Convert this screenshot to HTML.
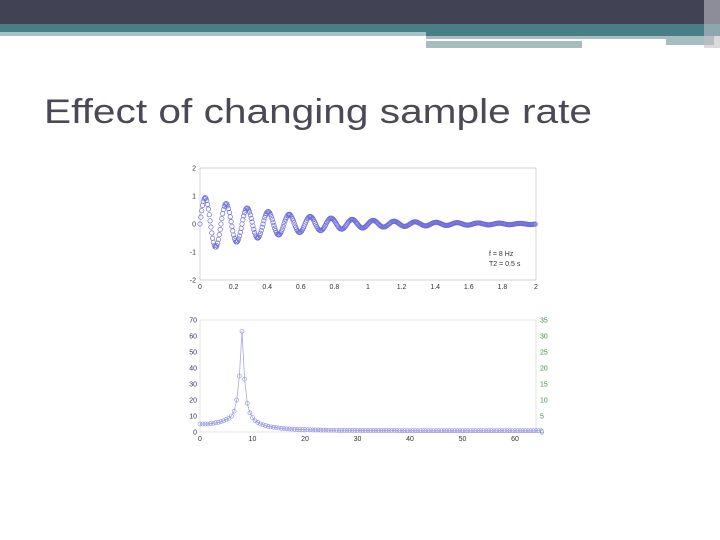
<!DOCTYPE html>
<html><head><meta charset="utf-8"><style>
body{margin:0;width:720px;height:540px;overflow:hidden;background:#fff;font-family:"Liberation Sans",sans-serif}
svg{position:absolute;left:0;top:0}
</style></head><body>
<svg width="720" height="540">
<g>
<rect x="0" y="0" width="720" height="24" fill="#414254"/>
<rect x="0" y="24" width="720" height="8" fill="#477f84"/>
<rect x="0" y="32" width="426" height="4" fill="#a7c2c6"/>
<rect x="426" y="32" width="294" height="4" fill="#477f84"/>
<rect x="426" y="36" width="240" height="3" fill="#a7bcbe"/>
<rect x="426" y="41" width="156" height="7" fill="#a7bcbe"/>
<rect x="666" y="36" width="48" height="9" fill="#a7bcbe"/>
<rect x="704" y="0" width="16" height="48" fill="#c0c0c8" opacity="0.6"/>
</g>
<text x="44" y="123" font-size="34" fill="#4a4a56" textLength="548" lengthAdjust="spacingAndGlyphs">Effect of changing sample rate</text>
<g id="top"></g>
<g id="bot"></g>
</svg>
<script>
const freqHz = [8];
const t2Sec = [0.5];
const topYTicks = [-2,-1,0,1,2];
const topXTicks = [0,0.2,0.4,0.6,0.8,1,1.2,1.4,1.6,1.8,2];
const topXLabels = ["0","0.2","0.4","0.6","0.8","1","1.2","1.4","1.6","1.8","2"];
const specValues = [5,5,5,5,5.2,5.5,5.8,6,6.5,7,7.8,8.5,10,13,20,35,63,33,18,12,9,7,6,5,4.5,4,3.5,3.2,3,2.8,2.5,2.3,2.1,2,1.9,1.8,1.7,1.6,1.6,1.5,1.5,1.4,1.4,1.3,1.3,1.3,1.2,1.2,1.2,1.1,1.1,1.1,1.1,1,1,1,1,1,1,1,1,0.9,0.9,0.9,0.9,0.9,0.9,0.9,0.9,0.9,0.9,0.9,0.9,0.9,0.9,0.9,0.8,0.8,0.8,0.8,0.8,0.8,0.8,0.8,0.8,0.8,0.8,0.8,0.8,0.8,0.8,0.8,0.8,0.8,0.8,0.8,0.8,0.8,0.8,0.8,0.8,0.8,0.8,0.8,0.8,0.8,0.8,0.8,0.8,0.8,0.8,0.8,0.8,0.8,0.8,0.8,0.8,0.8,0.8,0.8,0.8,0.8,0.8,0.8,0.8,0.8,0.8,0.8,0.8,0.8,0.8];
const specStep = [0.5];
const botXTicks = [0,10,20,30,40,50,60];
const botYTicks = [0,10,20,30,40,50,60,70];
const rightYTicks = [0,5,10,15,20,25,30,35];
const NS="http://www.w3.org/2000/svg";
function mk(parent,tag,attrs,txt){const e=document.createElementNS(NS,tag);for(const k in attrs)e.setAttribute(k,attrs[k]);if(txt!==undefined)e.textContent=txt;parent.appendChild(e);return e;}

const gTop=document.getElementById('top');
const TX0=200,TX1=536,TY0=168,TY1=280;
const tx=t=>TX0+(t-0)/(2-0)*(TX1-TX0);
const ty=v=>TY1-(v+2)/4*(TY1-TY0);
const tf=mk(gTop,'rect',{x:TX0,y:TY0,width:TX1-TX0,height:TY1-TY0,fill:'none',stroke:'#ccc','stroke-width':0.8});


topYTicks.forEach(v=>{
  const l=mk(gTop,'text',{x:TX0-4,y:ty(v)+2.5,'font-size':7,'text-anchor':'end',fill:'#333'},String(v));
  
  
});
topXTicks.forEach((v,i)=>{
  const l=mk(gTop,'text',{x:tx(v),y:TY1+9,'font-size':7,'text-anchor':'middle',fill:'#333'},topXLabels[i]);
  
  
});
const N=400, fs=200;
for(let i=0;i<N;i++){
  const t=i/fs;
  const v=Math.sin(2*Math.PI*freqHz[0]*t)*Math.exp(-t/t2Sec[0]);
  const c=mk(gTop,'circle',{cx:tx(t),cy:ty(v),r:2.2,fill:'none',stroke:'#6c6cd8','stroke-width':0.7});
  
  
}
const a1=mk(gTop,'text',{x:489,y:256,'font-size':7,fill:'#333'},'f = 8 Hz');


const a2=mk(gTop,'text',{x:489,y:266,'font-size':7,fill:'#333'},'T2 = 0.5 s');



const gBot=document.getElementById('bot');
const BX0=200,BX1=536,BY0=320,BY1=432;
const bx=f=>BX0+f/64*(BX1-BX0);
const by=v=>BY1-v/70*(BY1-BY0);
const bf=mk(gBot,'rect',{x:BX0,y:BY0,width:BX1-BX0,height:BY1-BY0,fill:'none',stroke:'#ddd','stroke-width':0.8});


botYTicks.forEach(v=>{
  const l=mk(gBot,'text',{x:BX0-3,y:by(v)+2.5,'font-size':7,'text-anchor':'end',fill:'#333366'},String(v));
  
  
});
rightYTicks.forEach(v=>{
  const y=BY1-v/35*(BY1-BY0);
  const l=mk(gBot,'text',{x:BX1+4,y:y+2.5,'font-size':7,fill:'#4a8a4a'},String(v));
  
  
});
botXTicks.forEach(v=>{
  const l=mk(gBot,'text',{x:bx(v),y:BY1+9,'font-size':7,'text-anchor':'middle',fill:'#333'},String(v));
  
  
});
let d='';
specValues.forEach((v,i)=>{d+=(i?'L':'M')+bx(i*specStep[0])+','+by(v);});
const ln=mk(gBot,'path',{d:d,fill:'none',stroke:'#a8a8e8','stroke-width':0.8});


specValues.forEach((v,i)=>{
  const c=mk(gBot,'circle',{cx:bx(i*specStep[0]),cy:by(v),r:2,fill:'none',stroke:'#8a8ae0','stroke-width':0.6});
  
  
});
</script>
</body></html>
